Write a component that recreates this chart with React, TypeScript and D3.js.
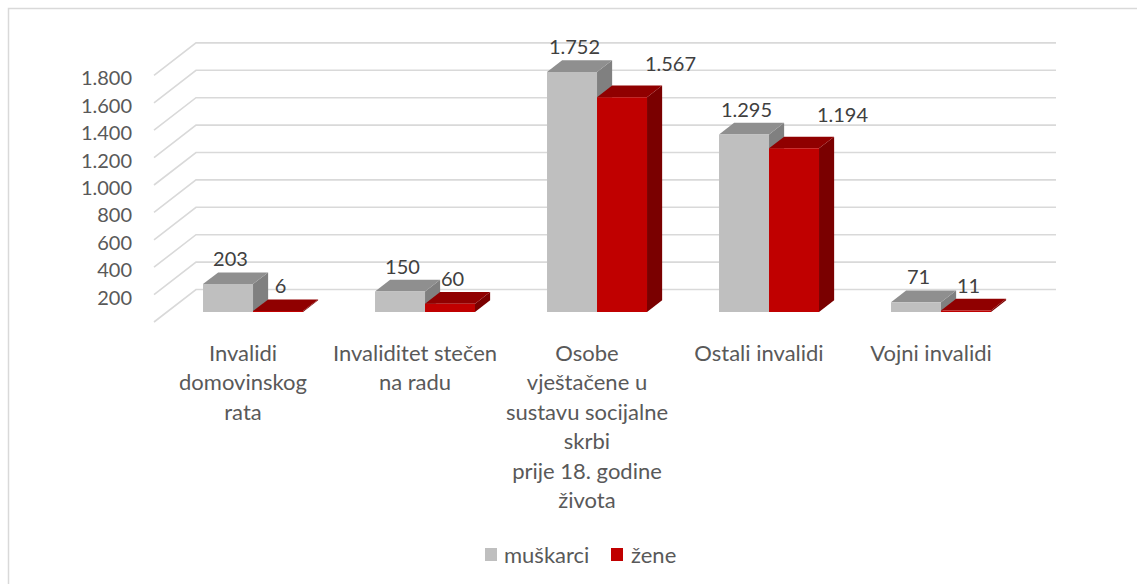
import React from "react";
import * as d3 from "d3";

// categories (wrapped the way the original chart wraps them)
const categories = [
  "Invalidi domovinskog rata",
  "Invaliditet stečen na radu",
  "Osobe vještačene u sustavu socijalne skrbi prije 18. godine života",
  "Ostali invalidi",
  "Vojni invalidi",
];
const categoryLines = [
  ["Invalidi", "domovinskog", "rata"],
  ["Invaliditet stečen", "na radu"],
  ["Osobe", "vještačene u", "sustavu socijalne", "skrbi", "prije 18. godine", "života"],
  ["Ostali invalidi"],
  ["Vojni invalidi"],
];
const series = ["muškarci", "žene"];
const muskarci = [203, 150, 1752, 1295, 71];
const zene = [6, 60, 1567, 1194, 11];
const gridValues = [0, 200, 400, 600, 800, 1000, 1200, 1400, 1600, 1800];

const W = 1137;
const H = 584;
const FONT = "Lato, 'Open Sans', sans-serif";

const colors: Record<string, { front: string; top: string; side: string }> = {
  "muškarci": { front: "#bfbfbf", top: "#8f8f8f", side: "#808080" },
  "žene": { front: "#c00000", top: "#900000", side: "#7a0000" },
};

const fmt = d3
  .formatLocale({ decimal: ",", thousands: ".", grouping: [3], currency: ["", ""] })
  .format(",d");

// oblique 3D: z = 0 front of floor, z = 1 back wall
const depthX = 42;
const depthY = 32.5;
const barZ0 = 0.31;
const barZ1 = 0.67;

const x = d3.scaleBand<string>().domain(categories).range([154, 1014]);
const xs = d3.scaleBand<string>().domain(series).range([-50, 50]);
const y = d3.scaleLinear().domain([0, 1800]).range([322, 75.4]);

const proj = (px: number, v: number, z: number): [number, number] => [
  px + z * depthX,
  y(v) - z * depthY,
];
const poly = (pts: [number, number][]) => pts.map((p) => p.join(",")).join(" ");
const labelWidth = (s: string) =>
  s.split("").reduce((a, c) => a + (c === "." ? 4.7 : 11.6), 0);

export default function App() {
  const rows = categories.map((c, i) => ({ cat: c, values: [muskarci[i], zene[i]] }));

  const bars: any[] = [];
  rows.forEach((r) => {
    series.forEach((s, j) => {
      const x0 = (x(r.cat) as number) + x.bandwidth() / 2 + (xs(s) as number);
      const x1 = x0 + xs.bandwidth();
      bars.push({ cat: r.cat, s, v: r.values[j], x0, x1 });
    });
  });

  const labels = bars.map((b, k) => {
    const text = fmt(b.v);
    const w = labelWidth(text);
    const fx = (proj(b.x0, 0, barZ0)[0] + proj(b.x1, 0, barZ0)[0]) / 2 + 2.5;
    let lx = fx;
    let ly = proj(b.x0, b.v, barZ1)[1] - 13;
    if (b.s === "žene") {
      // nudge the label off the neighbouring grey column, like Excel does
      const g = bars[k - 1];
      const gRight = proj(g.x1, g.v, barZ1)[0];
      const gTop = proj(g.x1, g.v, barZ1)[1];
      if (lx - w / 2 < gRight && ly + 10 > gTop) {
        lx += 46;
        ly -= 9;
      }
    }
    return { text, lx, ly, key: b.cat + b.s };
  });

  return (
    <svg
      width={W}
      height={H}
      style={{ position: "absolute", left: 0, top: 0, background: "#fff" }}
      fontFamily={FONT}
    >
      <rect x={8.5} y={8.5} width={W + 10} height={H + 10} fill="#fff" stroke="#d9d9d9" strokeWidth={1.5} />

      {/* gridlines: left wall diagonals + back wall */}
      <g stroke="#d9d9d9" strokeWidth={1.6} fill="none">
        {gridValues.map((v) => {
          const a = proj(154, v, 0);
          const b = proj(154, v, 1);
          const c = proj(1014, v, 1);
          return <polyline key={v} points={poly([a, b, c])} />;
        })}
      </g>

      {/* y tick labels */}
      <g fill="#595959" fontSize={20} textAnchor="end">
        {gridValues
          .filter((v) => v > 0)
          .map((v) => (
            <text key={v} x={132} y={y(v) + 3} dy="0.35em">
              {fmt(v)}
            </text>
          ))}
      </g>

      {/* bars */}
      <g>
        {bars.map((b) => {
          const c = colors[b.s];
          const front = [proj(b.x0, 0, barZ0), proj(b.x1, 0, barZ0), proj(b.x1, b.v, barZ0), proj(b.x0, b.v, barZ0)];
          const top = [proj(b.x0, b.v, barZ0), proj(b.x1, b.v, barZ0), proj(b.x1, b.v, barZ1), proj(b.x0, b.v, barZ1)];
          const side = [proj(b.x1, 0, barZ0), proj(b.x1, 0, barZ1), proj(b.x1, b.v, barZ1), proj(b.x1, b.v, barZ0)];
          return (
            <g key={b.cat + b.s}>
              <polygon points={poly(side)} fill={c.side} />
              <polygon points={poly(top)} fill={c.top} />
              <polygon points={poly(front)} fill={c.front} />
            </g>
          );
        })}
      </g>

      {/* data labels */}
      <g fill="#404040" fontSize={20} textAnchor="middle">
        {labels.map((l) => (
          <text key={l.key} x={l.lx} y={l.ly} dy="0.35em">
            {l.text}
          </text>
        ))}
      </g>

      {/* category labels */}
      <g fill="#595959" fontSize={22} textAnchor="middle">
        {categories.map((c, i) => {
          const cx = (x(c) as number) + x.bandwidth() / 2 + 3;
          return (
            <text key={c} x={cx} y={353}>
              {categoryLines[i].map((line, j) => (
                <tspan key={j} x={cx} dy={j === 0 ? "0.35em" : 29.5}>
                  {line}
                </tspan>
              ))}
            </text>
          );
        })}
      </g>

      {/* legend */}
      <g fontSize={22} fill="#595959">
        <rect x={485} y={548} width={12} height={13} fill={colors["muškarci"].front} />
        <text x={504} y={555} dy="0.35em">{series[0]}</text>
        <rect x={611} y={548} width={12} height={13} fill={colors["žene"].front} />
        <text x={631} y={555} dy="0.35em">{series[1]}</text>
      </g>
    </svg>
  );
}
